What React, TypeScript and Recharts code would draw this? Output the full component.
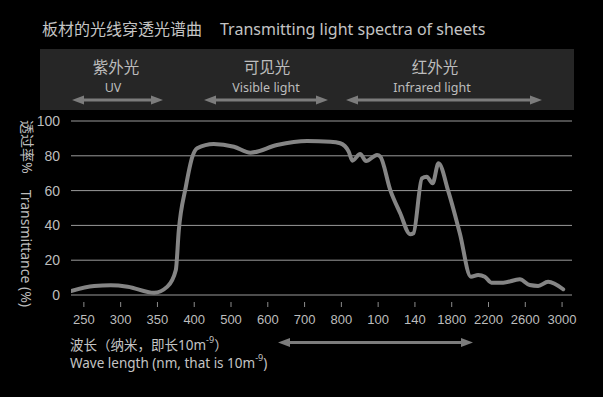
import { LineChart, Line, XAxis, YAxis, CartesianGrid } from "recharts";

// wavelength tick labels (as printed on the sheet chart, nm)
const xLabels = ["250", "300", "350", "400", "500", "600", "700", "800", "100", "140", "1800", "2200", "2600", "3000"];
const xTicks = xLabels.map((_, i) => i);
const yTicks = [0, 20, 40, 60, 80, 100];

// curve samples: position along the tick axis + transmittance %
const curveAt = [
  -0.35, 0.28, 0.73, 1.19, 1.91, 2.27, 2.5, 2.58, 2.77, 2.95, 3.08, 3.53, 4.08, 4.53, 5.25, 6.07, 6.7,
  6.97, 7.2, 7.3, 7.51, 7.67, 7.97, 8.06, 8.33, 8.6, 8.87, 8.96, 9.19, 9.32, 9.48, 9.64, 9.91, 10.22,
  10.52, 10.72, 10.9, 11.08, 11.4, 11.85, 12.12, 12.35, 12.62, 13.03,
];
const transmittance = [
  2.3, 5.2, 5.6, 4.8, 1.3, 4.8, 14.4, 37, 62, 79.5, 84.3, 86.8, 85.2, 81.8, 86.2, 88.5, 88.1,
  87.2, 82.4, 77.2, 81, 77, 80.5, 79.5, 60.3, 47, 34.9, 35.5, 67, 68, 64.2, 75.7, 59.4, 35.5,
  10.5, 11.5, 10.5, 7.1, 7.1, 9, 5.7, 5.2, 7.6, 3.3,
];

const data = curveAt.map((x, i) => ({ x, t: transmittance[i] }));

const SANS = "'Noto Sans', 'Noto Sans CJK SC', sans-serif";
const NUM = "'Liberation Sans', Arial, sans-serif";

function WaveTick({ x, y, payload }: any) {
  return (
    <g>
      <line x1={x} x2={x} y1={y + 7} y2={y + 12} stroke="#8c8c8c" strokeWidth={1} />
      <text x={x} y={y + 24} textAnchor="middle" dominantBaseline="central" fill="#bdbdbd" fontSize={13} fontFamily={NUM}>
        {xLabels[payload.value]}
      </text>
    </g>
  );
}

function DoubleArrow({ x1, x2, y }: { x1: number; x2: number; y: number }) {
  const head = 12;
  return (
    <g fill="#7c7c7c">
      <rect x={x1 + head - 1} y={y - 1.5} width={x2 - x1 - 2 * head + 2} height={3} />
      <polygon points={`${x1},${y} ${x1 + head},${y - 4.5} ${x1 + head},${y + 4.5}`} />
      <polygon points={`${x2},${y} ${x2 - head},${y - 4.5} ${x2 - head},${y + 4.5}`} />
    </g>
  );
}

export default function App() {
  return (
    <div style={{ position: "absolute", left: 0, top: 0, width: 603, height: 397, background: "#000", fontFamily: SANS }}>
      <LineChart width={603} height={397} data={data} margin={{ top: 121, right: 31, bottom: 0, left: 0 }}>
        <CartesianGrid horizontal vertical={false} stroke="#9a9a9a" strokeWidth={1} />
        <XAxis
          type="number"
          dataKey="x"
          domain={[-0.35, 13.27]}
          ticks={xTicks}
          allowDataOverflow
          axisLine={false}
          tickLine={false}
          tickSize={0}
          tickMargin={0}
          height={102}
          interval={0}
          tick={<WaveTick />}
        />
        <YAxis
          domain={[0, 100]}
          ticks={yTicks}
          width={71}
          axisLine={false}
          tickLine={false}
          tickSize={0}
          tickMargin={11}
          tick={{ fill: "#bdbdbd", fontSize: 14, fontFamily: NUM }}
        />
        <Line
          type="monotone"
          dataKey="t"
          stroke="#858585"
          strokeWidth={4}
          dot={false}
          isAnimationActive={false}
          strokeLinejoin="round"
          strokeLinecap="round"
        />
      </LineChart>

      <svg width={603} height={397} style={{ position: "absolute", left: 0, top: 0, pointerEvents: "none" }}>
        <text x={42} y={29} dominantBaseline="central" fill="#c4c4c4" fontSize={16}>
          板材的光线穿透光谱曲
          <tspan dx={18}>Transmitting light spectra of sheets</tspan>
        </text>

        <rect x={40} y={49} width={534} height={61} fill="#262626" />
        <g fill="#bdbdbd" textAnchor="middle">
          <text x={116} y={67} dominantBaseline="central" fontSize={15.5}>紫外光</text>
          <text x={113} y={87} dominantBaseline="central" fontSize={12.5}>UV</text>
          <text x={267} y={67} dominantBaseline="central" fontSize={15.5}>可见光</text>
          <text x={266} y={87} dominantBaseline="central" fontSize={12.5}>Visible light</text>
          <text x={435} y={67} dominantBaseline="central" fontSize={15.5}>红外光</text>
          <text x={432} y={87} dominantBaseline="central" fontSize={12.5}>Infrared light</text>
        </g>
        <DoubleArrow x1={72} x2={163} y={100} />
        <DoubleArrow x1={204} x2={328} y={100} />
        <DoubleArrow x1={346} x2={542} y={100} />

        <text
          x={27}
          y={120}
          transform="rotate(90, 27, 120)"
          dominantBaseline="central"
          fill="#bdbdbd"
          fontSize={14}
        >
          透过率%
          <tspan dx={16}>Transmittance (%)</tspan>
        </text>

        <text x={70} y={345} dominantBaseline="central" fill="#c4c4c4" fontSize={13.5}>
          波长（纳米，即长10m<tspan dy={-6} fontSize={9}>-9</tspan>
          <tspan dy={6}>）</tspan>
        </text>
        <text x={70} y={363} dominantBaseline="central" fill="#c4c4c4" fontSize={13.5}>
          Wave length (nm, that is 10m<tspan dy={-6} fontSize={9}>-9</tspan>
          <tspan dy={6}>)</tspan>
        </text>
        <DoubleArrow x1={278} x2={473} y={342.5} />
      </svg>
    </div>
  );
}
